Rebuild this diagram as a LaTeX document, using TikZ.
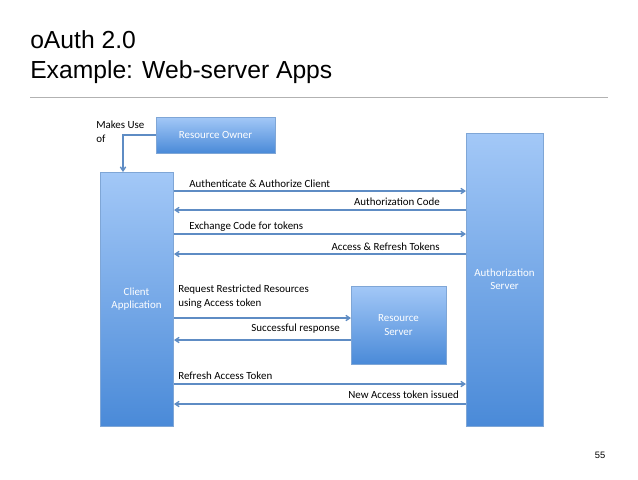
\documentclass[tikz,border=0pt]{standalone}
\usepackage{fontspec}
\setmainfont{Liberation Sans}
\newfontfamily\carl{Carlito}
\usetikzlibrary{arrows.meta}
\definecolor{topb}{HTML}{A3C8F7}
\definecolor{botb}{HTML}{4A8AD8}
\definecolor{edgeb}{HTML}{7FA6D6}
\definecolor{arr}{HTML}{5E8CC4}
\begin{document}
\begin{tikzpicture}[x=0.75pt,y=-0.75pt,
 box/.style={draw=edgeb,line width=0.6pt,top color=topb,bottom color=botb},
 btxt/.style={text=white,font=\carl\fontsize{8.2}{10}\selectfont,align=center},
 msg/.style={draw=arr,line width=1pt,-{Straight Barb[length=3pt,width=4pt]}},
 lbl/.style={font=\carl\fontsize{8.2}{10}\selectfont,text=black,inner sep=0pt}]
\useasboundingbox (0,0) rectangle (638,479);
\node[anchor=base west,font=\fontsize{18.5}{22}\selectfont,inner sep=0] (t1) at (30,48) {oAuth 2.0};
\node[anchor=base west,font=\fontsize{18.5}{22}\selectfont,inner sep=0] (t2) at (30,78) {Example: Web-server Apps};
\draw[gray!60,line width=0.6pt] (30,97) -- (608,97);
\node[font=\fontsize{7}{8}\selectfont,inner sep=0] (pg) at (600,455) {55};
% boxes
\path[box] (156,117) rectangle (275,153);
\node[btxt] (ro) at (215.5,135) {Resource Owner};
\path[box] (100,172) rectangle (173,426);
\node[btxt] (ca) at (136.5,299) {Client\\Application};
\path[box] (466,133) rectangle (543,426);
\node[btxt] (as) at (504.5,279) {Authorization\\Server};
\path[box] (351,286) rectangle (446,364);
\node[btxt] (rs) at (398.5,325) {Resource\\Server};
\node[lbl,anchor=north west,align=left] (mu) at (96,121) {Makes Use\\of};
% coordinates
\coordinate (ro1) at (156,135); \coordinate (ro2) at (123,135); \coordinate (ca0) at (123,172);
\draw[msg] (ro1) -- (ro2) -- (ca0);
\foreach \n/\y in {a/191,b/210,c/234,d/254,g/384,h/404}{
 \coordinate (L\n) at (174,\y); \coordinate (R\n) at (466,\y);}
\coordinate (Le) at (174,318); \coordinate (Re) at (351,318);
\coordinate (Lf) at (174,340); \coordinate (Rf) at (351,340);
\draw[msg] (La) -- (Ra); \draw[msg] (Rb) -- (Lb);
\draw[msg] (Lc) -- (Rc); \draw[msg] (Rd) -- (Ld);
\draw[msg] (Le) -- (Re); \draw[msg] (Rf) -- (Lf);
\draw[msg] (Lg) -- (Rg); \draw[msg] (Rh) -- (Lh);
\node[lbl,anchor=base west] (l1) at (189,187) {Authenticate \& Authorize Client};
\node[lbl,anchor=base east] (l2) at (440,205) {Authorization Code};
\node[lbl,anchor=base west] (l3) at (189,229) {Exchange Code for tokens};
\node[lbl,anchor=base east] (l4) at (440,250) {Access \& Refresh Tokens};
\node[lbl,anchor=north west,align=left] (l5) at (178,285) {Request Restricted Resources\\using Access token};
\node[lbl,anchor=base east] (l6) at (340,331) {Successful response};
\node[lbl,anchor=base west] (l7) at (178,379) {Refresh Access Token};
\node[lbl,anchor=base east] (l8) at (459,398) {New Access token issued};
\end{tikzpicture}
\end{document}
